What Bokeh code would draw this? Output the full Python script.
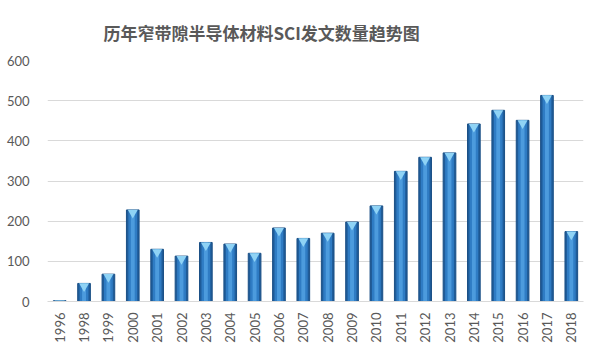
import math
from bokeh.plotting import figure
from bokeh.models import FactorRange, Range1d, ColumnDataSource, FixedTicker
from bokeh.transform import dodge
from bokeh.embed import file_html
from bokeh.resources import INLINE

years = ["1996", "1998", "1999", "2000", "2001", "2002", "2003", "2004", "2005", "2006", "2007",
         "2008", "2009", "2010", "2011", "2012", "2013", "2014", "2015", "2016", "2017", "2018"]
counts = [2, 45, 68, 228, 130, 113, 147, 143, 120, 183, 157,
          170, 198, 238, 324, 359, 370, 442, 476, 451, 513, 174]
y_ticks = [0, 100, 200, 300, 400, 500, 600]
title_text = "历年窄带隙半导体材料SCI发文数量趋势图"

src = ColumnDataSource(dict(x=years, top=counts))

p = figure(width=600, height=353, x_range=FactorRange(*years), y_range=Range1d(0, 600),
           output_backend="svg", toolbar_location=None,
           min_border_left=47, min_border_right=17, min_border_top=60, min_border_bottom=52)
p.title.text = title_text
p.title.align = "left"
p.title.offset = 56
p.title.standoff = 28
p.title.vertical_align = "top"
p.title.text_font = "Noto Sans CJK SC"
p.title.text_font_size = "17px"
p.title.text_font_style = "bold"
p.title.text_color = "#595959"

p.outline_line_color = None
p.background_fill_color = "white"
p.border_fill_color = "white"

# bars: layered to imitate cylinder shading
p.vbar(x="x", top="top", width=0.52, source=src, fill_color="#1F5C99", line_color="#1A4F85", line_width=1)
p.vbar(x="x", top="top", width=0.36, source=src, fill_color="#2F7CC4", line_color=None)
p.vbar(x="x", top="top", width=0.16, source=src, fill_color="#4C9BDD", line_color=None)
p.scatter(x="x", y=dodge("top", -7), source=src, marker="inverted_triangle", size=10,
          fill_color="#8FD3F5", line_color=None)

p.yaxis.ticker = FixedTicker(ticks=y_ticks)
p.yaxis.axis_line_color = None
p.yaxis.major_tick_line_color = None
p.yaxis.minor_tick_line_color = None
p.yaxis.major_label_text_font = "Lato"
p.yaxis.major_label_text_font_size = "13px"
p.yaxis.major_label_text_color = "#595959"
p.yaxis.major_label_standoff = 12

p.xaxis.axis_line_color = "#D9D9D9"
p.xaxis.major_tick_line_color = None
p.xaxis.minor_tick_line_color = None
p.xaxis.major_label_orientation = math.pi / 2
p.xaxis.major_label_text_font = "Lato"
p.xaxis.major_label_text_font_size = "13px"
p.xaxis.major_label_text_color = "#595959"
p.xaxis.major_label_standoff = 5

p.xgrid.grid_line_color = None
p.ygrid.grid_line_color = "#D9D9D9"
p.ygrid.ticker = FixedTicker(ticks=y_ticks)

open("out.html", "w").write(file_html(p, INLINE))
